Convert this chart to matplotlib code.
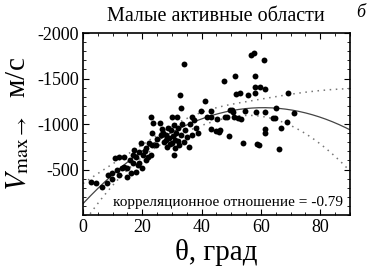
import numpy as np
import matplotlib
matplotlib.use("Agg")
import matplotlib.pyplot as plt
from matplotlib.ticker import MultipleLocator

plt.rcParams['font.family'] = ['Liberation Serif', 'DejaVu Serif']
plt.rcParams['mathtext.fontset'] = 'stix'
plt.rcParams['axes.unicode_minus'] = False

# Data: angle (deg) and max velocity (m/s)
theta = [2.7, 4.5, 6.3, 8.0, 8.3, 9.7, 9.7, 10.7, 11.3, 12.0, 12.3, 13.0, 13.7, 13.7,
         14.7, 15.0, 16.0, 16.3, 16.7, 16.7, 17.3, 18.0, 18.0, 18.7, 19.0, 19.0, 19.7,
         20.0, 20.3, 21.0, 21.3, 21.3, 22.0, 22.3, 23.0, 23.0, 23.3, 23.3, 23.7, 24.7,
         25.0, 26.0, 26.3, 26.7, 27.0, 27.3, 28.0, 28.0, 28.3, 28.7, 29.0, 29.3, 29.7,
         30.0, 30.0, 30.3, 30.7, 30.7, 31.0, 31.0, 31.3, 31.7, 32.0, 32.0, 32.3, 32.7,
         33.0, 33.0, 33.3, 34.0, 34.0, 34.3, 35.0, 35.7, 36.0, 36.7, 36.7, 37.3, 38.0,
         38.7, 39.7, 41.0, 41.7, 43.0, 43.0, 43.3, 44.7, 45.3, 45.7, 46.3, 47.7, 48.0,
         48.7, 49.3, 49.7, 50.3, 50.7, 51.0, 51.3, 51.5, 52.3, 53.0, 53.3, 54.0, 54.7,
         55.5, 56.7, 57.7, 58.0, 58.0, 58.0, 58.3, 58.7, 59.3, 59.7, 61.0, 61.3, 61.3,
         61.3, 61.3, 64.0, 64.7, 65.0, 66.0, 66.7, 68.7, 69.0, 71.3]
vmax = [-363, -352, -308, -352, -440, -396, -462, -627, -495, -440, -638, -517, -638, -528,
        -418, -517, -600, -462, -572, -660, -715, -638, -473, -550, -693, -572, -792,
        -517, -660, -700, -605, -737, -640, -792, -660, -1078, -770, -902, -1012, -770,
        -840, -1012, -880, -950, -902, -800, -825, -880, -748, -960, -850, -780, -930,
        -792, -1078, -870, -660, -990, -830, -740, -900, -1078, -960, -810, -770, -1320,
        -1177, -880, -1000, -1661, -803, -940, -860, -748, -1000, -880, -1078, -1045, -960,
        -902, -1144, -1254, -1078, -1078, -1144, -946, -924, -1056, -913, -935, -1474, -1078,
        -1078, -869, -1155, -1150, -1133, -1078, -1529, -1331, -1067, -1342, -1056, -792, -1144,
        -1320, -1760, -1782, -1529, -1408, -1342, -1133, -781, -770, -1408, -1705, -1386, -1133,
        -946, -902, -1067, -1067, -1177, -726, -957, -1023, -1342, -1122]

x = np.array(theta, dtype=float)
y = np.array(vmax, dtype=float)

# quadratic regression with confidence band
coef, cov = np.polyfit(x, y, 2, cov=True)
xs = np.linspace(0, 90, 200)
X = np.vstack([xs**2, xs, np.ones_like(xs)]).T
fit = X @ coef
se = np.sqrt(np.einsum('ij,jk,ik->i', X, cov, X))
band = 3.0 * se

fig = plt.figure(figsize=(3.73, 2.76), dpi=100)
ax = fig.add_axes([0.2225, 0.221, 0.7155, 0.659])

ax.scatter(x, y, s=18, color='black', zorder=3, linewidths=0)
ax.plot(xs, fit, color='#444444', lw=0.9)
ax.plot(xs, fit + band, color='#777777', lw=1.1, ls=(0, (1, 3)))
ax.plot(xs, fit - band, color='#777777', lw=1.1, ls=(0, (1, 3)))

ax.set_xlim(0, 90)
ax.set_ylim(0, -2000)
ax.xaxis.set_major_locator(MultipleLocator(20))
ax.xaxis.set_minor_locator(MultipleLocator(5))
ax.yaxis.set_major_locator(MultipleLocator(500))
ax.yaxis.set_minor_locator(MultipleLocator(100))
ax.set_yticks([-2000, -1500, -1000, -500])
ax.tick_params(which='both', direction='in', top=True, right=True, labelsize=13, pad=3)
ax.tick_params(which='major', length=4, width=0.8)
ax.tick_params(which='minor', length=2, width=0.6)
for sp in ax.spines.values():
    sp.set_linewidth(1.2)

ax.set_xlabel('θ, град', fontsize=21, labelpad=2)
ax.set_ylabel(r'$V_{\mathrm{max}\rightarrow}$  м/с', fontsize=21, labelpad=4)
ax.text(0.975, 0.07, 'корреляционное отношение = -0.79', transform=ax.transAxes,
        ha='right', va='center', fontsize=11)
fig.text(0.578, 0.94, 'Малые активные области', ha='center', va='center', fontsize=14.5)
fig.text(0.98, 0.955, 'б', ha='right', va='center', fontsize=13, style='italic')

fig.savefig('out.png', dpi=100)
